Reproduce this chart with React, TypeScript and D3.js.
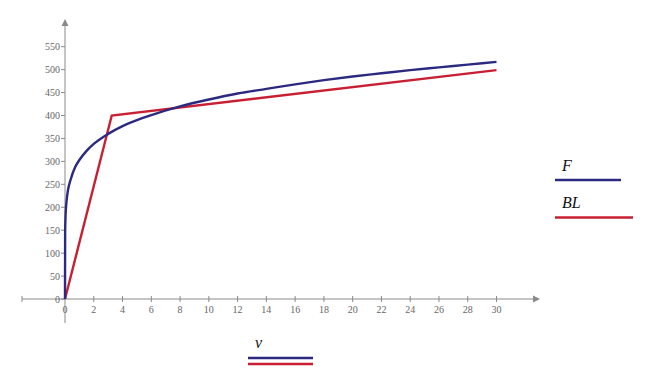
import React from 'react';
import * as d3 from 'd3';

// values
const vValues = [0, 0.01, 0.03, 0.06, 0.1, 0.2, 0.4, 0.7, 1, 1.5, 2, 3, 4, 5, 6, 8, 10, 12, 14, 16, 18, 20, 22, 24, 26, 28, 30];
const fValues = [0, 146, 174, 195, 211, 236, 261, 287, 303, 323, 338, 360, 377, 390, 401, 420, 435, 448, 458, 468, 477, 485, 492, 499, 505, 511, 517];
const blV = [0, 3.25, 30];
const blValues = [0, 400, 499];
const xTicks = d3.range(0, 31, 2);
const yTicks = d3.range(0, 551, 50);

const BLUE = '#2b2a80';
const RED = '#c81f33';
const AXIS = '#8a8a8a';
const TXT = '#666';
const serif = '"Liberation Serif", "DejaVu Serif", serif';

export default function App() {
  const x = d3.scaleLinear().domain([0, 30]).range([65, 496.5]);
  const y = d3.scaleLinear().domain([0, 550]).range([299, 46.7]);

  const fLine = d3.line<number>()
    .x((_, i) => x(vValues[i]))
    .y(d => y(d))
    .curve(d3.curveMonotoneX);
  const blLine = d3.line<number>()
    .x((_, i) => x(blV[i]))
    .y(d => y(d));

  const x0 = x(0), y0 = y(0);

  return (
    <svg width={649} height={369} style={{ position: 'absolute', left: 0, top: 0, background: '#fff' }}>
      {/* axes */}
      <g stroke={AXIS} strokeWidth={1} fill="none">
        <line x1={22} x2={536} y1={y0} y2={y0} />
        <line x1={22} x2={22} y1={y0 - 3} y2={y0 + 3} />
        <line x1={x0} x2={x0} y1={24} y2={323} />
      </g>
      <path d={`M540,${y0} L533,${y0 - 3.5} L533,${y0 + 3.5} Z`} fill={AXIS} />
      <path d={`M${x0},19 L${x0 - 3.5},26 L${x0 + 3.5},26 Z`} fill={AXIS} />

      {xTicks.map(t => (
        <g key={'x' + t}>
          {t > 0 && <line x1={x(t)} x2={x(t)} y1={y0 - 3} y2={y0 + 3} stroke={AXIS} />}
          <text x={x(t)} y={y0 + 14} textAnchor="middle" fontFamily={serif} fontSize={10} fill={TXT}>{t}</text>
        </g>
      ))}
      {yTicks.map(t => (
        <g key={'y' + t}>
          <line x1={x0 - 4} x2={x0} y1={y(t)} y2={y(t)} stroke={AXIS} />
          <text x={x0 - 5} y={y(t) + 3.5} textAnchor="end" fontFamily={serif} fontSize={10} fill={TXT}>{t}</text>
        </g>
      ))}

      {/* series */}
      <path d={blLine(blValues) || ''} fill="none" stroke={RED} strokeWidth={2.4} strokeLinejoin="miter" />
      <path d={fLine(fValues) || ''} fill="none" stroke={BLUE} strokeWidth={2.4} />

      {/* legend */}
      <text x={562} y={171} fontFamily={serif} fontStyle="italic" fontSize={16} fill="#111">F</text>
      <line x1={555} x2={621} y1={180} y2={180} stroke={BLUE} strokeWidth={2.4} />
      <text x={562} y={208} fontFamily={serif} fontStyle="italic" fontSize={16} fill="#111">BL</text>
      <line x1={555} x2={633} y1={217.5} y2={217.5} stroke={RED} strokeWidth={2.4} />

      <text x={255} y={348} fontFamily={serif} fontStyle="italic" fontSize={16} fill="#111">v</text>
      <line x1={248} x2={313} y1={358} y2={358} stroke={BLUE} strokeWidth={2.4} />
      <line x1={248} x2={313} y1={364} y2={364} stroke={RED} strokeWidth={2.4} />
    </svg>
  );
}
